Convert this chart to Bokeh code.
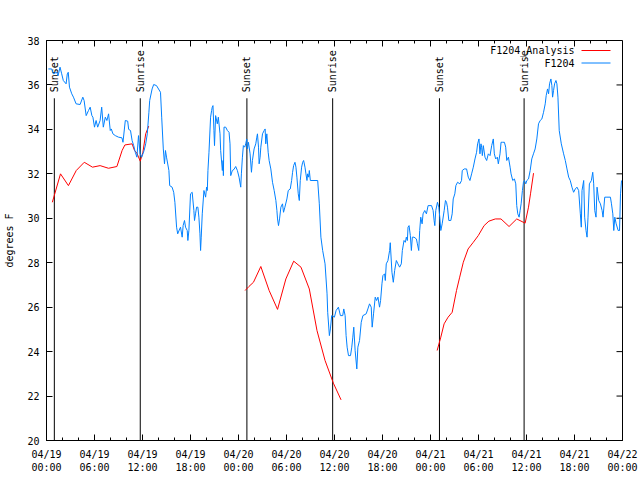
import math
from bokeh.plotting import figure
from bokeh.models import FixedTicker, Range1d, Label
from bokeh.core.properties import value
from bokeh.embed import file_html
from bokeh.resources import INLINE

FONT = "DejaVu Sans Mono"

title_text = "Dew Point for F1204 on 2024-Apr-19 (time in UTC)"
y_label = "degrees F"

# x axis: hours since 2024-04-19 00:00 UTC
x_tick_hours = [0, 6, 12, 18, 24, 30, 36, 42, 48, 54, 60, 66, 72]
x_tick_labels = ["04/19\n00:00", "04/19\n06:00", "04/19\n12:00", "04/19\n18:00",
                 "04/20\n00:00", "04/20\n06:00", "04/20\n12:00", "04/20\n18:00",
                 "04/21\n00:00", "04/21\n06:00", "04/21\n12:00", "04/21\n18:00",
                 "04/22\n00:00"]
x_minor_hours = list(range(0, 73, 2))
y_ticks = [20, 22, 24, 26, 28, 30, 32, 34, 36, 38]

sun_names = ["Sunset", "Sunrise", "Sunset", "Sunrise", "Sunset", "Sunrise"]
sun_hours = [0.98, 11.72, 25.05, 35.77, 49.12, 59.70]
sun_line_bottom = 20.0
sun_line_top = 35.4

# F1204 observations (hours, deg F)
blue_h = [0.23, 0.65, 0.86, 1.28, 1.45, 1.69, 1.9, 2.1, 2.45, 2.6, 2.72, 2.87, 3.16, 3.37, 3.7, 4.2,
          4.54, 4.7, 4.96, 5.25, 5.46, 5.67, 5.8, 6.0, 6.2, 6.4, 6.7, 6.9, 7.1, 7.35, 7.55, 7.76,
          7.97, 8.1, 8.3, 8.6, 9.0, 9.43, 9.56, 9.85, 10.15, 10.27, 10.5, 10.7, 10.9, 11.1, 11.3,
          11.5, 11.7, 11.9, 12.2, 12.4, 12.6, 12.8, 12.9, 13.2, 13.4, 13.75, 14.25, 14.4, 14.6,
          14.75, 14.87, 15.0, 15.3, 15.4, 15.7, 15.9, 16.05, 16.26, 16.4, 16.65,
          16.75, 16.96, 17.08, 17.25, 17.38, 17.59, 17.67, 17.8, 18.0, 18.21, 18.42, 18.5, 18.63,
          18.76, 18.92, 19.05, 19.18, 19.26, 19.34, 19.47, 19.68, 19.89, 20.01, 20.1, 20.18, 20.31,
          20.51, 20.64, 20.72, 20.81, 20.93, 21.0, 21.14, 21.35, 21.48, 21.69, 21.77, 21.98, 22.07,
          22.11, 22.19, 22.4, 22.61, 22.82, 22.94, 23.03, 23.23, 23.44, 23.65, 23.86, 24.07, 24.28,
          24.36, 24.49, 24.61, 24.78, 24.9, 25.03, 25.11, 25.24, 25.45, 25.62, 25.74, 25.95, 26.16,
          26.29, 26.37, 26.5, 26.58, 26.7, 26.79, 27.0, 27.21, 27.33, 27.41, 27.54, 27.71, 27.83,
          28.04, 28.25, 28.46, 28.67, 28.8, 28.88, 29.0, 29.13, 29.3, 29.5, 29.63, 29.8, 30.05,
          30.22, 30.47, 30.64, 30.76, 30.89, 31.06, 31.18, 31.3, 31.47, 31.6, 31.72, 31.89, 32.02,
          32.14, 32.31, 32.43, 32.56, 32.64, 32.77, 32.85, 32.98, 33.9, 34.1, 34.3,
          34.52, 34.82, 35.07, 35.15, 35.36, 35.49, 35.65, 35.99, 36.2, 36.49, 36.74, 37.03, 37.16,
          37.33, 37.45, 37.58, 37.75, 38.0, 38.16, 38.29, 38.41, 38.58, 38.79, 38.92, 39.13, 39.34,
          39.55, 39.96, 40.17, 40.38, 40.59, 40.71, 40.88, 41.09, 41.26, 41.43, 41.63, 41.76, 41.93,
          42.05, 42.26, 42.35, 42.47, 42.68, 42.89, 42.97, 43.18, 43.35, 43.52, 43.73, 43.93, 44.14,
          44.35, 44.48, 44.69, 44.86, 44.98, 45.11, 45.19, 45.32, 45.48, 45.61, 45.73, 45.94, 46.24,
          46.36, 46.53, 46.65, 46.78, 46.95, 47.07, 47.28, 47.49, 47.7, 48.13, 48.33, 48.45, 48.54,
          48.66, 48.87, 49.04, 49.16, 49.29, 49.46, 49.71, 49.87, 50.0, 50.12, 50.29, 50.54, 50.71,
          50.84, 51.04, 51.17, 51.38, 51.67, 51.88, 51.97, 52.22, 52.51, 52.72, 52.93, 53.14, 53.35,
          53.56, 53.76, 53.89, 54.06, 54.18, 54.31, 54.39, 54.48, 54.6, 54.81, 55.02, 55.23, 55.44,
          55.65, 55.85, 55.98, 56.15, 56.36, 56.48, 56.69, 56.82, 56.98, 57.24, 57.4, 57.53, 57.74,
          57.95, 58.07, 58.28, 58.49, 58.66, 58.78, 58.91, 59.08, 59.2, 59.33, 59.49, 59.62, 59.75,
          59.91, 60.04, 60.25, 60.46, 60.66, 60.87, 61.08, 61.29, 61.5, 61.71, 61.92, 62.13, 62.34,
          62.46, 62.63, 62.76, 62.88, 63.05, 63.17, 63.26, 63.38, 63.51, 63.68, 63.8, 63.93, 64.09,
          64.35, 64.64, 64.85, 65.06, 65.27, 65.47, 65.68, 65.89, 66.1, 66.31, 66.52, 66.73, 66.85,
          66.94, 67.15, 67.27, 67.44, 67.57, 67.69, 67.86, 68.11, 68.28, 68.4, 68.53, 68.69, 68.82,
          69.03, 69.24, 69.45, 69.57, 69.78, 69.95, 70.49, 70.62, 70.79, 70.91, 71.04, 71.21, 71.46,
          71.63, 71.75, 71.88]
blue_v = [36.72, 36.72, 36.5, 36.57, 36.42, 36.8, 36.5, 36.2, 36.05, 36.5, 36.57, 35.9, 35.6, 35.45, 35.15, 35.12,
          35.45, 35.3, 34.62, 34.85, 35.0, 34.62, 34.55, 34.1, 34.4, 34.1, 34.4, 35.0, 34.1, 34.55, 34.4, 34.7,
          33.95, 34.02, 33.8, 33.72, 33.65, 33.62, 33.42, 34.4, 34.37, 34.0, 33.95, 33.5, 33.27, 32.97, 32.75,
          33.72, 32.9, 32.75, 33.05, 33.35, 33.8, 34.77, 35.3, 35.82, 36.02, 35.97, 35.67, 34.55, 33.12,
          32.45, 33.05, 32.75, 32.15, 31.47, 31.4, 31.17, 30.72, 29.6, 29.3, 29.52,
          29.6, 29.15, 29.67, 29.9, 29.6, 29.45, 29.0, 29.45, 31.1, 31.17, 30.35, 29.9, 30.2,
          30.5, 30.5, 30.05, 29.3, 28.55, 29.15, 30.2, 31.25, 30.95, 31.4, 31.25, 32.15, 32.97,
          34.55, 34.85, 35.0, 35.07, 33.95, 33.27, 34.62, 34.25, 34.55, 33.8, 33.05, 32.15, 32.6,
          31.92, 34.1, 34.1, 33.95, 33.87, 33.35, 31.92, 32.15, 32.2, 32.33, 32.15, 31.85, 31.4,
          32.0, 32.75, 33.27, 33.2, 33.35, 33.57, 33.12, 33.42, 32.9, 32.07, 32.6, 33.12, 33.35,
          33.65, 33.8, 33.2, 32.45, 32.75, 33.2, 33.8, 33.95, 34.02, 33.35, 33.8, 32.97, 32.6,
          32.22, 31.62, 31.25, 30.8, 30.35, 29.97, 29.67, 29.97, 30.5, 30.65, 30.27, 30.5, 30.87,
          31.25, 31.32, 31.7, 32.07, 32.37, 32.52, 32.3, 31.85, 31.1, 30.8, 31.7, 32.3, 32.52,
          32.6, 32.3, 32.0, 31.7, 32.0, 31.85, 32.15, 31.7, 31.7, 30.65, 29.15,
          28.55, 27.95, 26.6, 25.77, 24.72, 25.02, 25.62, 25.55, 25.85, 26.0, 25.62, 25.62, 25.92,
          25.62, 24.72, 24.2, 23.82, 23.82, 24.2, 24.65, 25.1, 24.05, 23.22, 24.2, 24.5, 25.32,
          25.62, 25.7, 25.92, 26.15, 26.0, 25.1, 25.7, 26.45, 26.3, 26.45, 26.0, 26.3, 27.05,
          27.42, 27.5, 27.2, 27.95, 28.1, 28.55, 28.9, 27.57, 27.12, 27.65, 28.1, 27.95, 27.8,
          27.95, 28.55, 29.0, 28.92, 29.15, 29.0, 29.6, 29.67, 29.22, 28.55, 29.15, 29.15, 29.07,
          28.85, 28.55, 29.45, 30.05, 29.75, 30.2, 30.35, 30.2, 30.57, 30.57, 30.35, 29.9, 29.67,
          30.35, 30.72, 30.5, 30.05, 29.45, 29.75, 30.35, 30.8, 30.72, 30.5, 29.9, 29.9, 30.2,
          30.87, 31.1, 31.47, 31.62, 31.55, 31.7, 32.15, 32.22, 32.22, 31.85, 31.7, 32.0, 32.3,
          32.67, 32.97, 33.35, 33.57, 32.9, 33.35, 33.2, 32.82, 33.27, 32.75, 32.6, 32.9, 32.82,
          33.27, 33.57, 32.9, 32.67, 32.75, 32.45, 32.9, 33.42, 33.42, 33.42, 33.2, 32.6, 32.75,
          32.3, 32.0, 31.7, 31.77, 31.55, 30.57, 30.2, 30.05, 30.35, 30.65, 31.25, 31.62, 31.7,
          31.55, 31.7, 31.77, 32.15, 32.67, 32.9, 33.12, 33.57, 34.25, 34.4, 34.47, 34.77, 35.15,
          35.52, 35.82, 35.6, 36.05, 36.27, 35.97, 35.45, 35.75, 36.05, 36.2, 36.05, 35.45, 33.95,
          33.35, 32.9, 32.6, 32.22, 31.85, 31.7, 31.4, 31.17, 31.32, 31.4, 31.25, 30.2, 29.6,
          31.25, 31.7, 30.05, 29.45, 29.15, 30.05, 31.55, 31.7, 32.07, 31.55, 30.35, 30.05, 31.4,
          30.8, 30.65, 30.35, 30.05, 30.95, 30.95, 30.95, 30.65, 30.2, 29.45, 30.05, 29.75, 29.45,
          29.45, 31.1, 31.7]

# F1204_Analysis (three separate runs)
red_h = [
    [0.73, 1.75, 2.74, 3.72, 4.72, 5.75, 6.7, 7.75, 8.8, 9.45, 9.8, 10.7, 11.0, 11.3, 11.72, 12.05, 12.4, 12.78],
    [24.83, 25.3, 25.87, 26.79, 27.83, 28.88, 29.92, 30.9, 31.81, 32.85, 33.81, 34.82, 35.86, 36.82],
    [48.83, 49.29, 49.7, 50.2, 50.71, 51.25, 51.65, 52.1, 52.7, 53.35, 53.97, 54.7, 55.3, 56.1, 56.81,
     57.82, 58.78, 59.83, 60.25, 60.5, 60.88],
]
red_v = [
    [30.72, 32.0, 31.47, 32.15, 32.52, 32.3, 32.37, 32.25, 32.33, 33.05, 33.3, 33.35, 33.05, 32.93, 32.57, 32.97, 33.8, 34.15],
    [26.75, 26.93, 27.12, 27.83, 26.75, 25.9, 27.27, 28.07, 27.8, 26.82, 24.95, 23.6, 22.58, 21.83],
    [24.05, 24.65, 25.25, 25.55, 25.77, 26.75, 27.35, 28.02, 28.62, 28.92, 29.22, 29.67, 29.87, 29.97, 29.97,
     29.63, 29.97, 29.78, 30.5, 31.1, 32.03],
]

series_names = ["F1204_Analysis", "F1204"]
series_colors = ["#ff0000", "#0080ff"]

X0, X1 = 0, 72
Y0, Y1 = 20, 38
FRAME_W, FRAME_H = 576.0, 400.0
LEFT, TOP = 46, 40

p = figure(width=640, height=480, x_range=Range1d(X0, X1), y_range=Range1d(Y0, Y1),
           output_backend="svg", toolbar_location=None,
           min_border_left=LEFT, min_border_right=18, min_border_top=TOP, min_border_bottom=40)
p.xgrid.visible = False
p.ygrid.visible = False
p.outline_line_color = "black"
p.outline_line_width = 1
p.background_fill_color = "white"
p.border_fill_color = "white"

xt = FixedTicker(ticks=x_tick_hours, minor_ticks=x_minor_hours)
yt = FixedTicker(ticks=y_ticks, minor_ticks=[])


def style(ax):
    ax.axis_line_color = "black"
    ax.major_tick_line_color = "black"
    ax.minor_tick_line_color = "black"
    ax.major_tick_in = 6
    ax.major_tick_out = 0
    ax.minor_tick_in = 3
    ax.minor_tick_out = 0
    ax.major_label_text_font = FONT
    ax.major_label_text_font_size = "10px"
    ax.major_label_text_color = "black"
    ax.axis_label_text_font = FONT
    ax.axis_label_text_font_size = "10px"
    ax.axis_label_text_font_style = "normal"
    ax.axis_label_text_color = "black"


xa = p.xaxis[0]
xa.ticker = xt
xa.major_label_overrides = dict(zip(x_tick_hours, x_tick_labels))
xa.major_label_standoff = 8
style(xa)

ya = p.yaxis[0]
ya.ticker = yt
ya.axis_label = y_label
ya.major_label_standoff = 7
ya.axis_label_standoff = 9
style(ya)
ya.minor_tick_line_color = None

# pixel -> data helpers for things placed by screen position (title, key, mirrored ticks)
def hx(px):
    return X0 + (px - LEFT) * (X1 - X0) / FRAME_W

def vy(py):
    return Y0 + (TOP + FRAME_H - py) * (Y1 - Y0) / FRAME_H

dx_per_px = (X1 - X0) / FRAME_W
dy_per_px = (Y1 - Y0) / FRAME_H

# mirrored tick marks on top and right edges (gnuplot style)
top_minor = [t for t in x_minor_hours if t not in x_tick_hours]
p.segment(x0=x_tick_hours, y0=[Y1] * len(x_tick_hours), x1=x_tick_hours,
          y1=[Y1 - 6 * dy_per_px] * len(x_tick_hours), line_color="black", line_width=1)
p.segment(x0=top_minor, y0=[Y1] * len(top_minor), x1=top_minor,
          y1=[Y1 - 3 * dy_per_px] * len(top_minor), line_color="black", line_width=1)
p.segment(x0=[X1] * len(y_ticks), y0=y_ticks, x1=[X1 - 6 * dx_per_px] * len(y_ticks), y1=y_ticks,
          line_color="black", line_width=1)

# title
p.add_layout(Label(x=(X0 + X1) / 2, y=vy(20), text=title_text, text_align="center",
                   text_baseline="middle", text_font=FONT, text_font_size="10px", text_color="black"))

# sunrise / sunset markers
p.segment(x0=sun_hours, y0=[sun_line_bottom] * len(sun_hours), x1=sun_hours,
          y1=[sun_line_top] * len(sun_hours), line_color="black", line_width=1)
p.text(x=sun_hours, y=[sun_line_top] * len(sun_hours), text=sun_names, angle=math.pi / 2,
       text_align="left", text_baseline="middle", y_offset=-6,
       text_font=value(FONT), text_font_size="10px", text_color="black")

# data
p.multi_line(xs=red_h, ys=red_v, line_color=series_colors[0], line_width=1)
p.line(blue_h, blue_v, line_color=series_colors[1], line_width=1)

# gnuplot-style key (text, then sample line to its right)
key_rows = [50.0, 62.5]
for name, col, row in zip(series_names, series_colors, key_rows):
    p.add_layout(Label(x=hx(574), y=vy(row), text=name, text_align="right", text_baseline="middle",
                       text_font=FONT, text_font_size="10px", text_color="black"))
    p.line([hx(581), hx(610)], [vy(row), vy(row)], line_color=col, line_width=1)

open("out.html", "w").write(file_html(p, INLINE))
